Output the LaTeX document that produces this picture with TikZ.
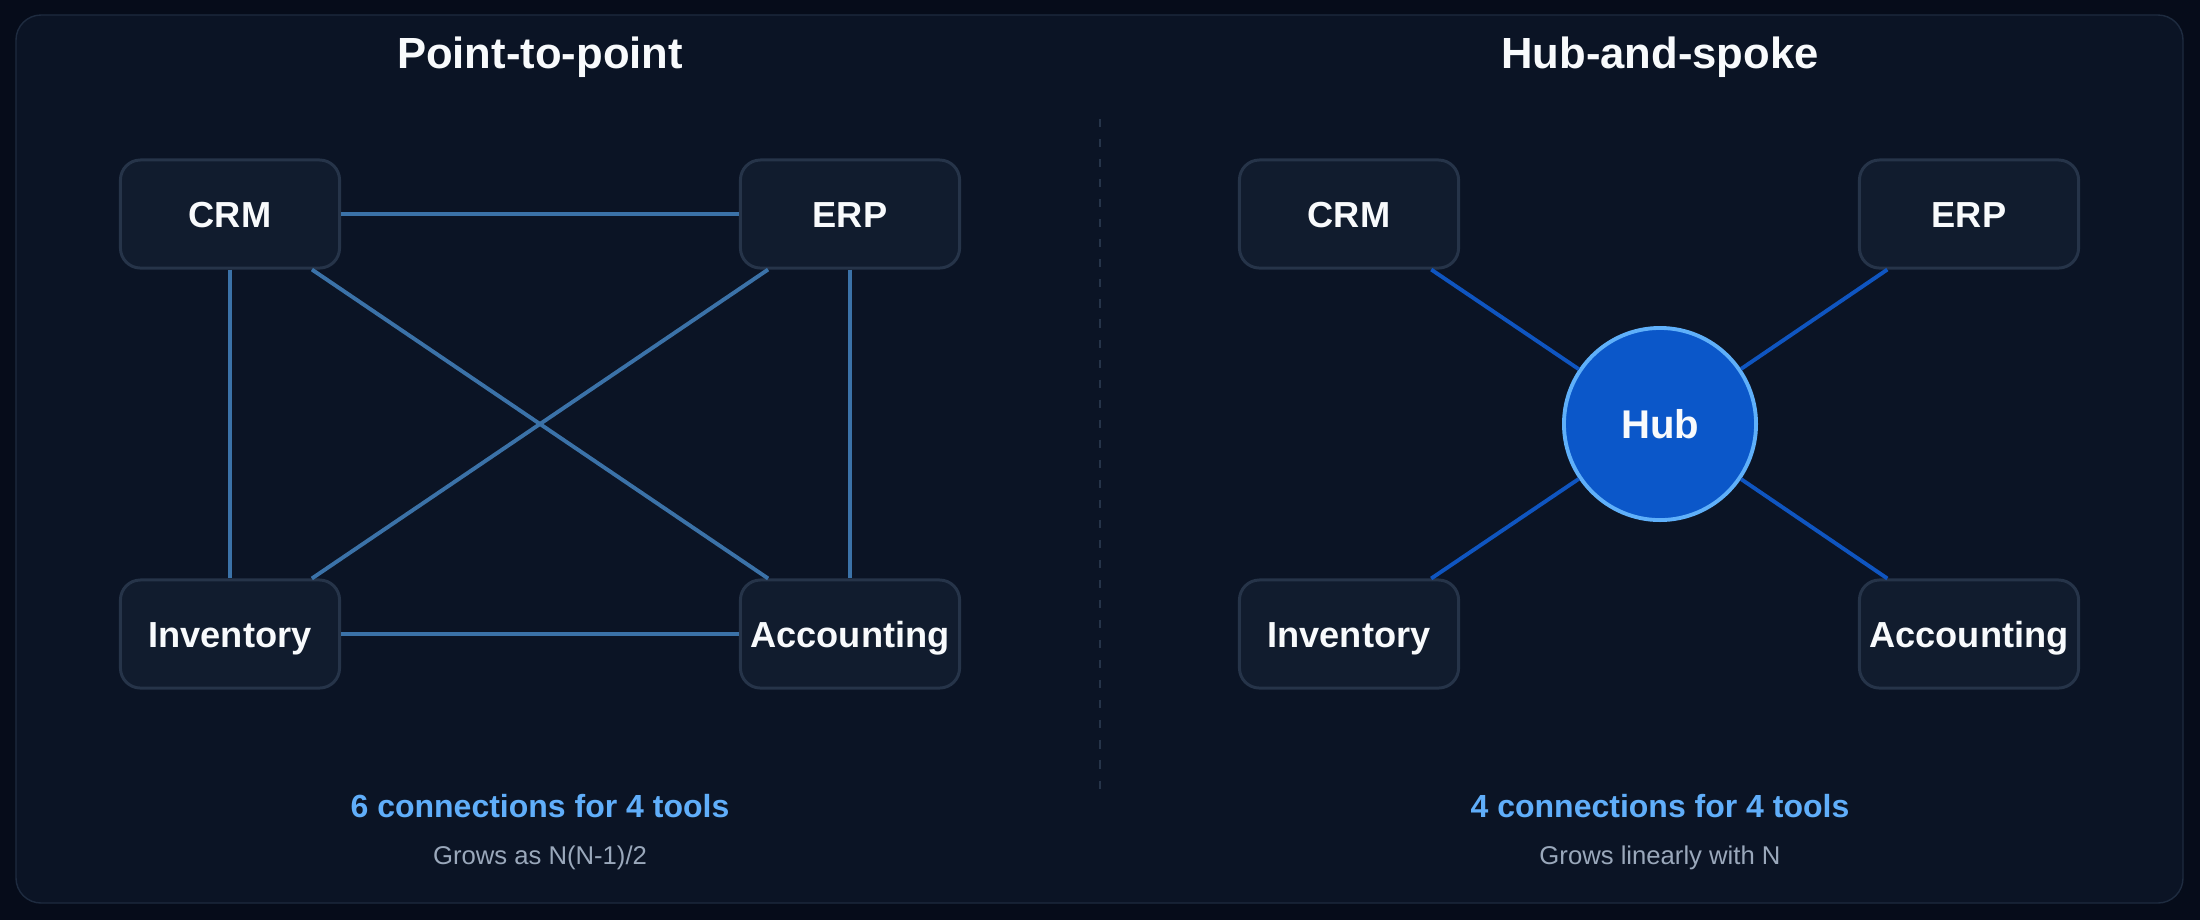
\documentclass[tikz,border=0pt]{standalone}
\usepackage{fontspec}
\setmainfont{Liberation Sans}
\definecolor{pagebg}{HTML}{060C1A}
\definecolor{panelbg}{HTML}{0B1425}
\definecolor{panelline}{HTML}{1E2B3F}
\definecolor{boxfill}{HTML}{111C2E}
\definecolor{boxline}{HTML}{263449}
\definecolor{linkcol}{HTML}{3B72A8}
\definecolor{spokecol}{HTML}{0F55C0}
\definecolor{hubfill}{HTML}{0B57C9}
\definecolor{hubline}{HTML}{5FB0FA}
\definecolor{notecol}{HTML}{60AEFA}
\definecolor{subcol}{HTML}{9AA8BB}
\definecolor{textcol}{HTML}{F8FAFC}

\begin{document}
\begin{tikzpicture}[x=0.01cm,y=-0.01cm,
  tool/.style={rectangle,rounded corners=0.2cm,draw=boxline,fill=boxfill,line width=0.85pt,
    minimum width=2.19cm,minimum height=1.08cm,inner xsep=1pt,text=textcol,
    font=\fontsize{10.3}{12}\selectfont\bfseries,text height=7.4pt,text depth=0pt},
  link/.style={linkcol,line width=1.1pt},
  spoke/.style={spokecol,line width=1.1pt},
  heading/.style={anchor=base,text=textcol,font=\fontsize{12.4}{14}\selectfont\bfseries},
  note/.style={anchor=base,text=notecol,font=\fontsize{9.1}{11}\selectfont\bfseries},
  subnote/.style={anchor=base,text=subcol,font=\fontsize{7.3}{9}\selectfont}]
% background and panel
\fill[pagebg] (0,0) rectangle (2200,920);
\useasboundingbox (0,0) rectangle (2200,920);
\draw[panelline,fill=panelbg,line width=0.4pt,rounded corners=0.25cm] (16,15) rectangle (2183,903);
\draw[boxline,line width=0.57pt,dash pattern=on 2.3pt off 3.4pt] (1100,119) -- (1100,789);

% point-to-point
\node[heading] (title1) at (540,68) {Point-to-point};
\node[tool] (crm1) at (230,214) {CRM};
\node[tool] (erp1) at (850,214) {ERP};
\node[tool] (inv1) at (230,634) {Inventory};
\node[tool] (acc1) at (850,634) {Accounting};
\draw[link] (crm1) -- (erp1);
\draw[link] (crm1) -- (inv1);
\draw[link] (crm1) -- (acc1);
\draw[link] (erp1) -- (inv1);
\draw[link] (erp1) -- (acc1);
\draw[link] (inv1) -- (acc1);
\node[note] (note1) at (540,817) {6 connections for 4 tools};
\node[subnote] (sub1) at (540,864) {Grows as N(N-1)/2};

% hub-and-spoke
\node[heading] (title2) at (1660,68) {Hub-and-spoke};
\node[tool] (crm2) at (1349,214) {CRM};
\node[tool] (erp2) at (1969,214) {ERP};
\node[tool] (inv2) at (1349,634) {Inventory};
\node[tool] (acc2) at (1969,634) {Accounting};
\node[circle,fill=hubfill,draw=hubline,line width=1.1pt,minimum size=1.92cm,text=textcol,
  font=\fontsize{11.4}{13}\selectfont\bfseries,text height=8.2pt,text depth=0pt] (hub) at (1660,424) {Hub};
\draw[spoke] (crm2) -- (hub);
\draw[spoke] (erp2) -- (hub);
\draw[spoke] (inv2) -- (hub);
\draw[spoke] (acc2) -- (hub);
\node[note] (note2) at (1660,817) {4 connections for 4 tools};
\node[subnote] (sub2) at (1660,864) {Grows linearly with N};
\end{tikzpicture}
\end{document}
